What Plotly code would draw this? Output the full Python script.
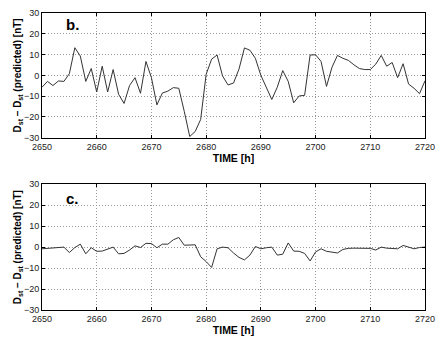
import plotly.graph_objects as go
from plotly.subplots import make_subplots

hours = list(range(2650, 2721))

# Dst - Dst(predicted), panel b
resid_b = [-5.7, -2.9, -4.9, -2.7, -2.9, 0.8, 13.3, 9.3, -2.9, 3.3,
           -8.0, 4.4, -8.0, 2.8, -9.1, -13.5, -4.9, -1.1, -8.6, 6.7,
           -1.1, -14.2, -8.5, -7.6, -5.9, -6.2, -17.3, -29.4, -27.0, -21.2,
           0.5, 7.8, 9.8, -0.3, -4.6, -3.7, 3.0, 13.2, 12.1, 8.2,
           0.0, -5.7, -11.6, -5.7, 2.3, -2.9, -13.2, -9.9, -9.6, 9.8,
           9.9, 6.7, -5.3, 3.9, 9.6, 8.2, 7.2, 5.1, 3.3, 2.8,
           2.8, 5.4, 9.6, 4.4, 6.2, -1.1, 5.6, -4.2, -6.2, -8.8,
           -2.6]

# panel c
resid_c = [-0.8, -0.6, -0.6, -0.5, 0.0, -2.6, -0.2, 1.4, -3.2, -0.3,
           -2.0, -1.9, -1.1, 0.0, -3.2, -3.0, -1.4, 0.6, -0.2, 1.8,
           1.7, -0.3, 1.4, 1.4, 3.5, 4.6, 0.9, 0.9, 1.1, -4.6,
           -6.9, -9.7, -0.8, 0.0, -0.3, -2.8, -4.9, -6.1, -3.8, 0.3,
           -0.8, -0.3, 0.0, -3.8, -3.4, 2.0, -1.9, -2.0, -3.0, -6.6,
           -2.3, -0.8, -2.0, -2.4, -2.8, -1.1, -0.6, -0.5, -0.5, -0.6,
           -0.6, -1.4, 0.0, -0.5, -0.5, -0.8, 0.8, 0.0, -0.8, -0.2,
           0.0]

panel_labels = ["b.", "c."]

fig = make_subplots(rows=2, cols=1, vertical_spacing=0.156)
fig.add_trace(go.Scatter(x=hours, y=resid_b, mode="lines",
                         line=dict(color="#333333", width=1)), row=1, col=1)
fig.add_trace(go.Scatter(x=hours, y=resid_c, mode="lines",
                         line=dict(color="#333333", width=1)), row=2, col=1)

ytitle = "<b>D<sub>st</sub> – D<sub>st</sub> (predicted) [nT]</b>"
for r in (1, 2):
    fig.update_xaxes(range=[2650, 2720], dtick=10, showline=True, linecolor="black",
                     mirror="ticks", ticks="inside", ticklen=3, tickcolor="black",
                     showgrid=True, gridcolor="#999999", griddash="1px,2px", gridwidth=1,
                     zeroline=False, tickfont=dict(size=9, color="#222222"),
                     title=dict(text="<b>TIME [h]</b>", font=dict(size=10.5, color="black"),
                                standoff=1),
                     row=r, col=1)
    fig.update_yaxes(range=[-30, 30], dtick=10, showline=True, linecolor="black",
                     mirror="ticks", ticks="inside", ticklen=3, tickcolor="black",
                     showgrid=True, gridcolor="#999999", griddash="1px,2px", gridwidth=1,
                     zeroline=False, tickfont=dict(size=9, color="#222222"),
                     title=dict(text=ytitle, font=dict(size=10, color="black"),
                                standoff=0),
                     row=r, col=1)

fig.update_xaxes(domain=[0, 1])
fig.update_yaxes(domain=[0.58, 1], row=1, col=1)
fig.update_yaxes(domain=[0, 0.4235], row=2, col=1)

for i, lab in enumerate(panel_labels):
    fig.add_annotation(x=2655.5, y=24.5 if i == 0 else 23,
                       xref="x" if i == 0 else "x2", yref="y" if i == 0 else "y2",
                       text="<b>" + lab + "</b>", showarrow=False,
                       font=dict(size=15, color="black"))

fig.update_layout(
    width=443, height=340,
    margin=dict(l=42, r=14, t=8, b=25),
    showlegend=False,
    plot_bgcolor="white", paper_bgcolor="white",
    font=dict(family="Liberation Sans, Arial, sans-serif"),
)
fig.write_html("out.html", config={"displayModeBar": False},
               post_script="document.body.style.margin='0px';")
